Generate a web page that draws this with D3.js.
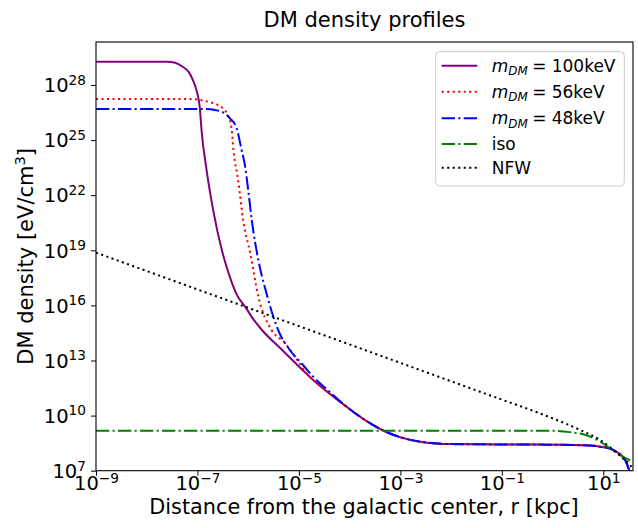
<!DOCTYPE html>
<html>
<head>
<meta charset="utf-8">
<script src="https://cdn.jsdelivr.net/npm/d3@7"></script>
<style>
body { margin: 0; background: #fff; }
text { font-family: "DejaVu Sans", sans-serif; fill: #000; }
</style>
</head>
<body>
<svg id="chart"></svg>
<script>
// values are log10(r / kpc) and log10(rho / (eV/cm^3))
var tailLogR   = [-4.06, -3.70, -3.34, -3.01, -2.61, -2.02, -1.04, 0.15, 0.74, 0.93, 1.13, 1.26, 1.35, 1.43, 1.51, 1.59];
var tailLogRho = [10.48, 9.76, 9.19, 8.83, 8.58, 8.45, 8.43, 8.41, 8.37, 8.31, 8.21, 8.03, 7.85, 7.58, 7.04, 6.39];

var logR100   = [-9.00, -7.60, -7.44, -7.29, -7.17, -7.09, -7.02, -6.95, -6.92, -6.82, -6.69, -6.52, -6.34, -6.22, -6.06, -5.90, -5.73, -5.37, -4.72];
var logRho100 = [29.26, 29.26, 29.21, 28.99, 28.70, 28.27, 27.72, 26.64, 25.55, 23.37, 21.19, 19.01, 17.38, 16.56, 15.93, 15.25, 14.66, 13.68, 11.94];

var logR56   = [-9.00, -7.15, -6.79, -6.60, -6.42, -6.33, -6.29, -6.19, -6.10, -5.96, -5.80, -5.54, -5.27, -5.08, -4.85, -4.49];
var logRho56 = [27.23, 27.23, 27.09, 26.91, 26.47, 25.66, 24.46, 22.66, 20.65, 18.85, 16.47, 14.66, 13.94, 13.21, 12.30, 11.42];

var logR48   = [-9.00, -6.82, -6.52, -6.36, -6.23, -6.13, -6.06, -6.00, -5.93, -5.80, -5.64, -5.41, -5.18, -4.95, -4.72, -4.39];
var logRho48 = [26.69, 26.69, 26.54, 26.18, 25.66, 24.46, 23.55, 22.28, 20.65, 18.47, 16.66, 14.66, 13.57, 12.85, 12.12, 11.28];

var logRIso   = [-9.00, 0.00, 0.34, 0.60, 0.93, 1.13, 1.33, 1.59];
var logRhoIso = [9.18, 9.17, 9.10, 8.98, 8.60, 8.22, 7.85, 7.49];

var logRNfw   = [-9.00, -7.00, -5.00, -3.00, -1.00, -0.25, 0.54, 0.94, 1.20, 1.39, 1.53, 1.60];
var logRhoNfw = [18.87, 16.87, 14.87, 12.87, 10.87, 10.12, 9.22, 8.67, 8.13, 7.67, 7.31, 7.00];

var xTickExp = [-9, -7, -5, -3, -1, 1];
var yTickExp = [7, 10, 13, 16, 19, 22, 25, 28];

var seriesNames = ['100keV', '56keV', '48keV', 'iso', 'NFW'];

var W = 638, H = 528;
var margin = {top: 42, right: 5, bottom: 57.3, left: 96};
var width = W - margin.left - margin.right,
    height = H - margin.top - margin.bottom;

var svg = d3.select('#chart')
    .attr('width', W)
    .attr('height', H);

var g = svg.append('g')
    .attr('transform', 'translate(' + margin.left + ',' + margin.top + ')');

var x = d3.scaleLog()
    .domain([1e-9, Math.pow(10, 1.585)])
    .range([0, width]);

var y = d3.scaleLog()
    .domain([1e7, Math.pow(10, 30.34)])
    .range([height, 0]);

g.append('clipPath').attr('id', 'clip')
  .append('rect').attr('width', width).attr('height', height);

function toPoints(lr, lrho) {
    return lr.map((v, i) => ({r: Math.pow(10, v), rho: Math.pow(10, lrho[i])}));
}

var series = [
    {name: seriesNames[0], color: 'purple', dash: null,
     pts: toPoints(logR100.concat(tailLogR), logRho100.concat(tailLogRho)), math: true},
    {name: seriesNames[1], color: 'red', dash: '2.1,3.4',
     pts: toPoints(logR56.concat(tailLogR), logRho56.concat(tailLogRho)), math: true},
    {name: seriesNames[2], color: 'blue', dash: '13.3,3.3,2.1,3.3',
     pts: toPoints(logR48.concat(tailLogR), logRho48.concat(tailLogRho)), math: true},
    {name: seriesNames[3], color: 'green', dash: '13.3,3.3,2.1,3.3',
     pts: toPoints(logRIso, logRhoIso), math: false},
    {name: seriesNames[4], color: 'black', dash: '2.1,3.4',
     pts: toPoints(logRNfw, logRhoNfw), math: false}
];

var line = d3.line()
    .x(d => x(d.r))
    .y(d => y(d.rho))
    .curve(d3.curveMonotoneX);

var lines = g.append('g').attr('clip-path', 'url(#clip)');
series.forEach(s => {
    lines.append('path')
        .attr('d', line(s.pts))
        .attr('fill', 'none')
        .attr('stroke', s.color)
        .attr('stroke-width', 2)
        .attr('stroke-dasharray', s.dash);
});

// axes
var xAxis = d3.axisBottom(x)
    .tickValues(xTickExp.map(e => Math.pow(10, e)))
    .tickSize(5).tickPadding(4);
var yAxis = d3.axisLeft(y)
    .tickValues(yTickExp.map(e => Math.pow(10, e)))
    .tickSize(5).tickPadding(5);

var gx = g.append('g')
    .attr('transform', 'translate(0,' + height + ')')
    .call(xAxis);
var gy = g.append('g').call(yAxis);

[gx, gy].forEach(ax => {
    ax.select('.domain').remove();
    ax.selectAll('.tick line').attr('stroke', '#000').attr('stroke-width', 1);
});

function powLabel(sel, exps) {
    sel.selectAll('.tick text').each(function(d, i) {
        var t = d3.select(this).text(null)
            .style('font-size', '19.5px');
        var e = exps[i];
        t.append('tspan').text('10');
        t.append('tspan')
            .attr('dy', -7.5)
            .style('font-size', '13.7px')
            .text(e < 0 ? '\u2212' + (-e) : String(e));
    });
}
powLabel(gx, xTickExp);
powLabel(gy, yTickExp);
gx.selectAll('.tick text').attr('dy', null).attr('y', 19.3);
gy.selectAll('.tick text').attr('dy', null).attr('y', 6.8).attr('x', -10);

g.append('rect')
    .attr('width', width).attr('height', height)
    .attr('fill', 'none').attr('stroke', '#000').attr('stroke-width', 1.1);

// labels
svg.append('text')
    .attr('x', margin.left + width / 2)
    .attr('y', 27)
    .attr('text-anchor', 'middle')
    .style('font-size', '21px')
    .text('DM density profiles');

svg.append('text')
    .attr('x', 364)
    .attr('y', 514)
    .attr('text-anchor', 'middle')
    .style('font-size', '20.8px')
    .text('Distance from the galactic center, r [kpc]');

var yl = svg.append('text')
    .attr('transform', 'translate(33,' + (margin.top + height / 2) + ') rotate(-90)')
    .attr('text-anchor', 'middle')
    .style('font-size', '21px');
yl.append('tspan').text('DM density [eV/cm');
yl.append('tspan').attr('dy', -8).style('font-size', '14.7px').text('3');
yl.append('tspan').attr('dy', 8).text(']');

// legend
var legend = svg.append('g').attr('transform', 'translate(435.7,51.7)');
legend.append('rect')
    .attr('width', 188.6).attr('height', 134.3)
    .attr('rx', 4)
    .attr('fill', '#fff').attr('fill-opacity', 0.8)
    .attr('stroke', '#cccccc').attr('stroke-width', 1);

var rowY = [14, 40, 66.6, 92.3, 116];
series.forEach((s, i) => {
    var row = legend.append('g').attr('transform', 'translate(0,' + rowY[i] + ')');
    row.append('line')
        .attr('x1', 6).attr('x2', 41.6)
        .attr('stroke', s.color)
        .attr('stroke-width', 2)
        .attr('stroke-dasharray', s.dash);
    var t = row.append('text')
        .attr('x', 56).attr('y', 6)
        .style('font-size', '17px');
    if (s.math) {
        t.append('tspan').style('font-style', 'italic').text('m');
        t.append('tspan').attr('dy', 3.5).style('font-style', 'italic')
            .style('font-size', '11.9px').text('DM');
        t.append('tspan').attr('dy', -3.5).attr('x', 96.5).text('=');
        t.append('tspan').attr('x', 116).text(s.name);
    } else {
        t.text(s.name);
    }
});
</script>
</body>
</html>
